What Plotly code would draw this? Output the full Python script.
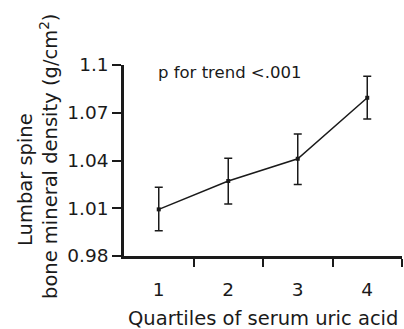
import plotly.graph_objects as go

quartiles = [1, 2, 3, 4]
bmd_mean = [1.0093, 1.0271, 1.0411, 1.0794]
ci_upper = [1.0232, 1.0414, 1.0566, 1.0930]
ci_lower = [0.9959, 1.0127, 1.0250, 1.0660]
y_ticks = [0.98, 1.01, 1.04, 1.07, 1.1]
y_ticktext = ["0.98", "1.01", "1.04", "1.07", "1.1"]

err_plus = [u - m for u, m in zip(ci_upper, bmd_mean)]
err_minus = [m - l for m, l in zip(bmd_mean, ci_lower)]

FONT = "DejaVu Sans"
COL = "#1a1a1a"

W, H = 404, 329
pl, pr, pt, pb = 124, 2, 65, 73
pw, ph = W - pl - pr, H - pt - pb


def px(xp):
    return (xp - pl) / pw


def py(yp):
    return (H - pb - yp) / ph


fig = go.Figure()
fig.add_trace(go.Scatter(
    x=quartiles, y=bmd_mean, mode="lines+markers",
    line=dict(color=COL, width=1.5),
    marker=dict(symbol="square", size=4, color=COL),
    error_y=dict(type="data", array=err_plus, arrayminus=err_minus,
                 color=COL, thickness=1.5, width=4),
    showlegend=False,
))

fig.update_layout(
    width=W, height=H,
    margin=dict(l=pl, r=pr, t=pt, b=pb),
    paper_bgcolor="white", plot_bgcolor="white",
    font=dict(family=FONT, color=COL, size=16),
    xaxis=dict(
        range=[0.5, 4.5], tickvals=quartiles, ticktext=[str(q) for q in quartiles],
        ticks="", showgrid=False, zeroline=False,
        showline=True, linecolor=COL, linewidth=2.5,
        tickfont=dict(size=18.5), ticklabelstandoff=15,
        minor=dict(tickvals=[1.5, 2.5, 3.5, 4.5], ticks="outside", ticklen=8,
                   tickwidth=2, tickcolor=COL, showgrid=False),
    ),
    yaxis=dict(
        range=[0.98, 1.1], tickvals=y_ticks, ticktext=y_ticktext,
        ticks="outside", ticklen=9, tickwidth=2, tickcolor=COL,
        showgrid=False, zeroline=False,
        showline=True, linecolor=COL, linewidth=2.5,
        tickfont=dict(size=18.5),
    ),
    annotations=[
        dict(text="p for trend <.001", x=px(156), y=1.0955, xref="paper", yref="y",
             showarrow=False, xanchor="left", yanchor="middle",
             font=dict(size=16.5)),
        dict(text="Quartiles of serum uric acid", x=px(263), y=py(318),
             xref="paper", yref="paper", showarrow=False,
             xanchor="center", yanchor="middle", font=dict(size=19.5)),
        dict(text="Lumbar spine", x=px(25), y=py(180),
             xref="paper", yref="paper", showarrow=False, textangle=-90,
             xanchor="center", yanchor="middle", font=dict(size=19.5)),
        dict(text="bone mineral density (g/cm<sup>2</sup>)", x=px(49), y=py(157),
             xref="paper", yref="paper", showarrow=False, textangle=-90,
             xanchor="center", yanchor="middle", font=dict(size=19.5)),
    ],
)

fig.write_html("out.html")
